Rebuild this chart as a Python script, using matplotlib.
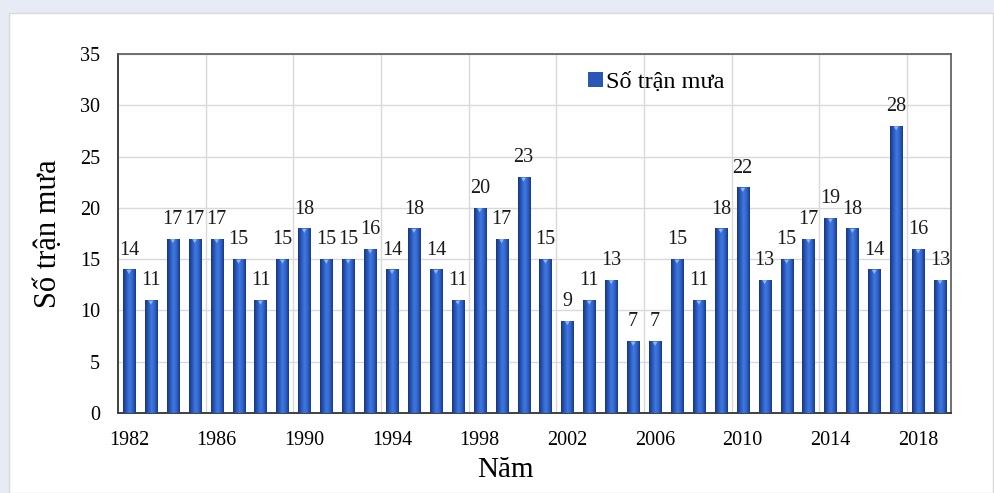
import matplotlib.pyplot as plt
import numpy as np
from matplotlib.patches import Rectangle, Polygon
from matplotlib.colors import LinearSegmentedColormap

plt.rcParams['font.family'] = ['Liberation Serif', 'DejaVu Serif']

# Number of rain events per year
years = list(range(1982, 2020))
rain_counts = [14, 11, 17, 17, 17, 15, 11, 15, 18, 15, 15, 16, 14, 18, 14, 11,
               20, 17, 23, 15, 9, 11, 13, 7, 7, 15, 11, 18, 22, 13, 15, 17,
               19, 18, 14, 28, 16, 13]
series_name = 'Số trận mưa'

fig = plt.figure(figsize=(9.95, 4.93), dpi=100)
fig.patch.set_facecolor('#e6ebf6')

# white panel behind the chart
panel = Rectangle((9 / 995, 0), 984 / 995, 1 - 13 / 493, transform=fig.transFigure,
                  facecolor='white', edgecolor='#d9d9d9', linewidth=1.0, zorder=-10)
fig.patches.append(panel)

ax = fig.add_axes([118 / 995, 80 / 493, 833 / 995, 359 / 493])
ax.set_facecolor('white')

x = np.arange(len(years))
bar_w = 0.55
bars = ax.bar(x, rain_counts, width=bar_w, color='#2a56b8', zorder=2, label=series_name)

# cylinder-like shading on each bar
shade = LinearSegmentedColormap.from_list(
    'shade', ['#183682', '#2857bb', '#4079de', '#3064cb', '#1a3987'])
grad = np.linspace(0, 1, 64).reshape(1, -1)
for b in bars:
    bx, bw, bh = b.get_x(), b.get_width(), b.get_height()
    im = ax.imshow(grad, cmap=shade, aspect='auto', extent=(bx, bx + bw, 0, bh),
                   zorder=3, interpolation='bilinear')
    im.set_clip_path(b)
    # light cap at the top
    cap = Polygon([(bx + bw * 0.3, bh - 0.05), (bx + bw * 0.7, bh - 0.05),
                   (bx + bw * 0.5, bh - 0.45)], closed=True,
                  facecolor='#8fb4ee', edgecolor='none', zorder=4)
    ax.add_patch(cap)

for xi, v in zip(x, rain_counts):
    ax.annotate(str(v), (xi, v), xytext=(0, 7), textcoords='offset points',
                ha='center', va='bottom', fontsize=14.5, color='#1a1a1a', zorder=5)

ax.set_xlim(-0.5, len(years) - 0.5)
ax.set_ylim(0, 35)
ax.set_yticks(range(0, 36, 5))
ax.set_xticks(x[::4])
ax.set_xticklabels([str(y) for y in years[::4]], fontsize=14.5)
ax.tick_params(axis='y', labelsize=14.5, length=0, pad=13)
ax.tick_params(axis='x', length=0, pad=13)

# horizontal grid plus vertical separators every four years
ax.grid(axis='y', color='#d9d9d9', linewidth=1.0, zorder=0)
for gx in np.arange(3.5, len(years) - 1, 4):
    ax.axvline(gx, color='#d9d9d9', linewidth=1.0, zorder=0)

for side in ['top', 'right']:
    ax.spines[side].set_color('#595959')
    ax.spines[side].set_linewidth(1.2)
for side in ['left', 'bottom']:
    ax.spines[side].set_color('#404040')
    ax.spines[side].set_linewidth(1.4)

ax.set_ylabel('Số trận mưa', fontsize=22)
ax.yaxis.set_label_coords(-0.066, 0.5)
ax.set_xlabel('Năm', fontsize=21, va='center')
ax.xaxis.set_label_coords((505 - 118) / 833, -0.16)

leg = ax.legend(loc='upper left', bbox_to_anchor=(0.538, 1.012), frameon=False,
                fontsize=17.5, handlelength=0.6, handleheight=0.6, handletextpad=0.15)

fig.savefig('out.png', dpi=100, facecolor=fig.get_facecolor())
